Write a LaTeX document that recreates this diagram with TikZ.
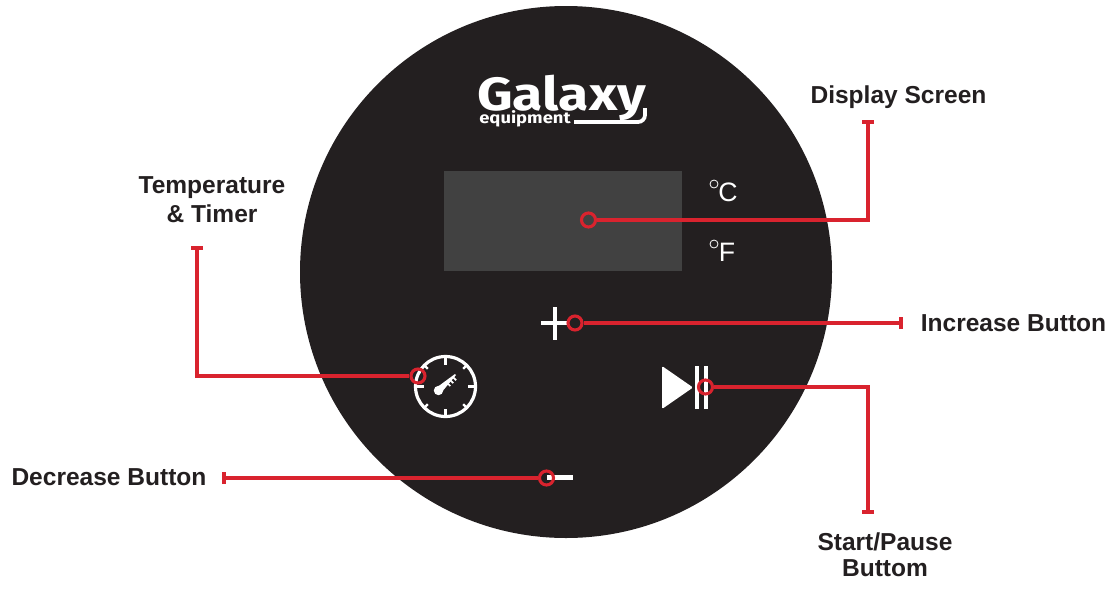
\documentclass[tikz,border=0pt]{standalone}
\usepackage{fontspec}
\usetikzlibrary{calc}
\setmainfont{Liberation Sans}
\newfontfamily\logofont{Fira Sans}
\definecolor{panel}{HTML}{231F20}
\definecolor{screen}{HTML}{414141}
\definecolor{callout}{HTML}{D9232E}
\definecolor{labelink}{HTML}{231F20}
\begin{document}
\begin{tikzpicture}[x=0.75pt,y=-0.75pt,
  lbl/.style={font=\fontsize{18.4pt}{22pt}\selectfont\bfseries,text=labelink,align=center,inner sep=0pt},
  unit/.style={font=\fontsize{20pt}{24pt}\selectfont,text=white,inner sep=0pt},
  deg/.style={circle,draw=white,line width=0.6pt,minimum size=6pt,inner sep=0pt},
  icon/.style={white,line width=3pt},
  wire/.style={callout,line width=2.3pt},
  ring/.style={circle,draw=callout,line width=2.3pt,minimum size=10.5pt,inner sep=0pt}]
\useasboundingbox (0,0) rectangle (1111,593);
\node[circle,fill=panel,minimum size=399pt,inner sep=0pt] (panel) at (566,272) {};
\node[fill=screen,minimum width=178.5pt,minimum height=75pt,inner sep=0pt] (screen) at (563,221) {};
% logo
\node[font=\fontsize{35pt}{40pt}\selectfont\logofont\bfseries,text=white,inner sep=0pt,anchor=base west,xscale=1.185] (galaxy) at (477,110) {Galaxy};
\node[font=\fontsize{12pt}{13pt}\selectfont\logofont\bfseries,text=white,inner sep=0pt,anchor=base west,xscale=1.15] (equip) at (479,123) {equipment};
\draw[white,line width=2.8pt] (574,122) -- (638,122) arc[start angle=90,end angle=0,radius=7] -- (645,108);
% units
\node[unit] (cel) at (728,192) {C};
\node[unit] (fah) at (727,252) {F};
\node[deg] (celdeg) at (714,184) {};
\node[deg] (fahdeg) at (714,244) {};
% plus
\draw[icon,line width=3pt] (541,322.5) -- (568,322.5) (555,307) -- (555,340);
% minus
\draw[icon,line width=3.3pt] (547,477.5) -- (573,477.5);
% play / pause
\fill[white,rounded corners=1pt] (662,366) -- (693,387.5) -- (662,409) -- cycle;
\draw[icon,line width=2.8pt] (697,366) -- (697,409) (706,366) -- (706,409);
% gauge
\coordinate (gauge) at (445.5,386.5);
\draw[icon,line width=2.4pt] (gauge) circle (30);
\foreach \a in {0,45,...,315}{
  \pgfmathsetmacro{\rin}{mod(\a,90)==0 ? 22 : 25}
  \draw[white,line width=1.8pt] ($(gauge)+(\a:30)$) -- ($(gauge)+(\a:\rin)$);
}
\fill[white] (438.5,390.5) circle (4.7);
\fill[white] (436,388) -- (455,374) -- (456,375) -- (441,393) -- cycle;
\foreach \t in {0.5,0.68,0.86}{\draw[white,line width=1.3pt] ($(438.5,390.5)!\t!(455,374.5)$) -- ++(3.5,3.5);}
% labels
\node[lbl] (ldisp) at (898.5,97) {Display Screen};
\node[lbl] (ltemp) at (212,199.5) {Temperature\\\& Timer};
\node[lbl] (linc) at (1013.5,323) {Increase Button};
\node[lbl] (ldec) at (109,477.5) {Decrease Button};
\node[lbl] (lstart) at (885,554.5) {Start/Pause\\[-2.5pt]Buttom};
% rings
\node[ring] (r1) at (588.5,220) {};
\node[ring] (r2) at (575,323) {};
\node[ring] (r3) at (418,376) {};
\node[ring] (r4) at (705.5,387) {};
\node[ring] (r5) at (546.5,478) {};
% free ends
\coordinate (e1) at (868,122);
\coordinate (e2) at (901,323);
\coordinate (e3) at (197,248);
\coordinate (e4) at (868,512);
\coordinate (e5) at (224,478);
% wires
\draw[wire] (r1) -- (r1 -| e1) -- (e1);
\draw[wire] (r2) -- (e2);
\draw[wire] (r3) -- (r3 -| e3) -- (e3);
\draw[wire] (r4) -- (r4 -| e4) -- (e4);
\draw[wire] (r5) -- (e5);
% caps
\draw[wire] ([xshift=-4.5pt]e1) -- ([xshift=4.5pt]e1);
\draw[wire] ([yshift=-4.5pt]e2) -- ([yshift=4.5pt]e2);
\draw[wire] ([xshift=-4.5pt]e3) -- ([xshift=4.5pt]e3);
\draw[wire] ([xshift=-4.5pt]e4) -- ([xshift=4.5pt]e4);
\draw[wire] ([yshift=-4.5pt]e5) -- ([yshift=4.5pt]e5);
\end{tikzpicture}
\end{document}
